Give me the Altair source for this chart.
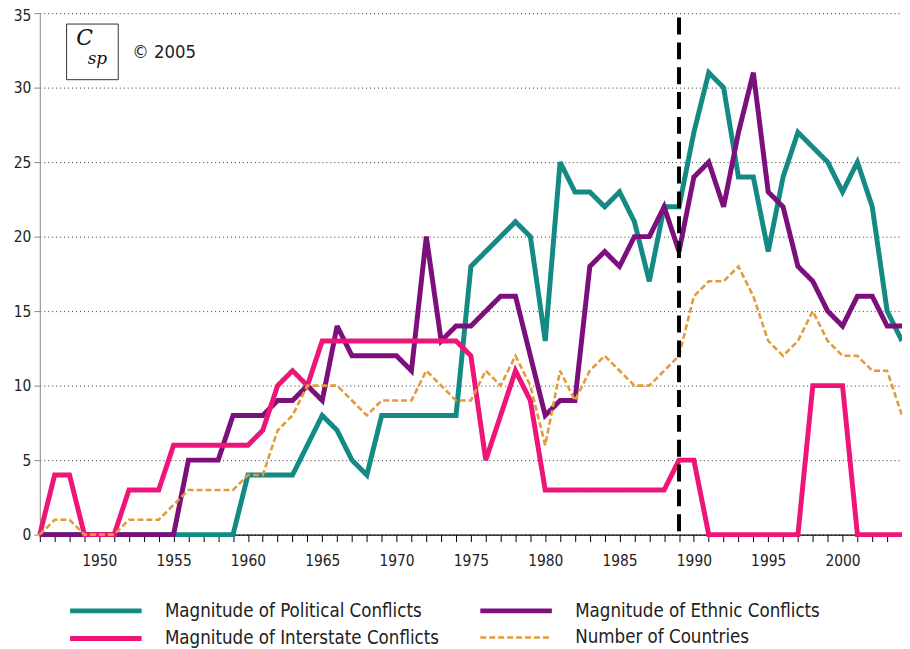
import altair as alt
import pandas as pd

years = list(range(1946, 2005))
label_years = [1950, 1955, 1960, 1965, 1970, 1975, 1980, 1985, 1990, 1995, 2000]

political = [0, 0, 0, 0, 0, 0, 0, 0, 0, 0, 0, 0, 0, 0,
             4, 4, 4, 4, 6, 8, 7, 5, 4, 8, 8, 8, 8, 8, 8,
             18, 19, 20, 21, 20, 13, 25, 23, 23, 22, 23, 21, 17, 22, 22,
             27, 31, 30, 24, 24, 19, 24, 27, 26, 25, 23, 25, 22, 15, 13]
ethnic = [0, 0, 0, 0, 0, 0, 0, 0, 0, 0,
          5, 5, 5, 8, 8, 8, 9, 9, 10,
          9, 14, 12, 12, 12, 12, 11, 20, 13, 14,
          14, 15, 16, 16, 12, 8, 9, 9, 18, 19,
          18, 20, 20, 22, 19, 24, 25, 22, 27, 31,
          23, 22, 18, 17, 15, 14, 16, 16, 14, 14]
interstate = [0, 4, 4, 0, 0, 0, 3, 3, 3, 6,
              6, 6, 6, 6, 6, 7, 10, 11, 10, 13,
              13, 13, 13, 13, 13, 13, 13, 13, 13, 12,
              5, 8, 11, 9, 3, 3, 3, 3, 3, 3,
              3, 3, 3, 5, 5, 0, 0, 0, 0, 0,
              0, 0, 10, 10, 10, 0, 0, 0, 0]
countries = [0, 1, 1, 0, 0, 0, 1, 1, 1, 2,
             3, 3, 3, 3, 4, 4, 7, 8, 10, 10,
             10, 9, 8, 9, 9, 9, 11, 10, 9, 9,
             11, 10, 12, 10, 6, 11, 9, 11, 12, 11,
             10, 10, 11, 12, 16, 17, 17, 18, 16, 13,
             12, 13, 15, 13, 12, 12, 11, 11, 8]

series_names = ["Magnitude of Political Conflicts", "Magnitude of Ethnic Conflicts",
                "Magnitude of Interstate Conflicts", "Number of Countries"]
series_values = [political, ethnic, interstate, countries]
series_colors = ["#138a84", "#7b0f7b", "#ee1578", "#e39a3a"]
series_dash = [[1, 0], [1, 0], [1, 0], [6, 3]]
series_width = [5, 5, 5, 2.6]

y_ticks = [0, 5, 10, 15, 20, 25, 30, 35]
marker_year = 1989
copyright_text = "\u00a9 2005"

FONT = "Liberation Sans Narrow, DejaVu Sans Condensed, Arial Narrow, sans-serif"

rows = []
for name, vals in zip(series_names, series_values):
    for yr, v in zip(years, vals):
        rows.append({"year": yr, "value": v, "series": name})
df = pd.DataFrame(rows)

x_scale = alt.Scale(domain=[years[0], years[-1]], nice=False, zero=False)

y_enc = alt.Y("value:Q",
              scale=alt.Scale(domain=[0, 35], nice=False),
              axis=alt.Axis(values=y_ticks, grid=True, gridDash=[1, 3], gridColor="#333",
                            gridWidth=1, domainColor="#888", tickColor="#888", tickSize=6,
                            title=None, labelFont=FONT, labelFontSize=15.5, labelColor="#222",
                            labelPadding=3,
                            labelOffset={"condition": {"test": "datum.value == 35", "value": 2},
                                         "value": 0}))

lines = alt.Chart(df).mark_line(strokeMiterLimit=3).encode(
    x=alt.X("year:Q", scale=x_scale,
            axis=alt.Axis(values=years, labels=False, tickSize=7, tickColor="black",
                          domainColor="black", domainWidth=1.2, tickWidth=1, grid=False,
                          title=None, orient="bottom")),
    y=y_enc,
    color=alt.Color("series:N", sort=series_names,
                    scale=alt.Scale(domain=series_names, range=series_colors),
                    legend=alt.Legend(title=None)),
    strokeDash=alt.StrokeDash("series:N", sort=series_names,
                              scale=alt.Scale(domain=series_names, range=series_dash),
                              legend=alt.Legend(title=None)),
    strokeWidth=alt.StrokeWidth("series:N", sort=series_names,
                                scale=alt.Scale(type="ordinal", domain=series_names,
                                                range=series_width),
                                legend=alt.Legend(title=None)),
)

marker = alt.Chart(pd.DataFrame({"year": [marker_year]})).mark_rule(
    color="black", strokeWidth=4, strokeDash=[17, 8]
).encode(
    x=alt.X("year:Q", scale=x_scale,
            axis=alt.Axis(values=label_years, format="d", ticks=False, tickSize=0,
                          domain=False, grid=False, title=None, orient="bottom",
                          labelFont=FONT, labelFontSize=15.5, labelColor="#222",
                          labelPadding=19)),
    y=alt.datum(34.7), y2=alt.datum(0))

one = pd.DataFrame({"a": [0]})
logo_box = alt.Chart(one).mark_rect(fill="white", stroke="#333", strokeWidth=1).encode(
    x=alt.value(27), x2=alt.value(79), y=alt.value(11), y2=alt.value(67))
logo_c = alt.Chart(one).mark_text(text="C", font="DejaVu Serif", fontStyle="italic",
                                  fontSize=22, color="#111").encode(
    x=alt.value(45), y=alt.value(25))
logo_sp = alt.Chart(one).mark_text(text="sp", font="DejaVu Serif", fontStyle="italic",
                                   fontSize=17, color="#111").encode(
    x=alt.value(58), y=alt.value(46))
copy_t = alt.Chart(one).mark_text(text=copyright_text, font=FONT, fontSize=18.5, align="left",
                                  baseline="middle", color="#222").encode(
    x=alt.value(93), y=alt.value(39))

chart = alt.layer(lines, marker, logo_box, logo_c, logo_sp, copy_t).resolve_axis(
    x="independent"
).properties(
    width=868, height=525, autosize="none",
    padding={"left": 32, "top": 3, "right": 0, "bottom": 115},
).configure_view(stroke=None).configure_legend(
    orient="none", legendX=55, legendY=590, columns=2, direction="horizontal",
    symbolType="M-4,0H4", symbolSize=324, labelOffset=48,
    labelFont=FONT, labelFontSize=18.7, labelColor="#222", labelLimit=500,
    rowPadding=6, columnPadding=31, padding=0,
)

chart.save("out.html", embed_options={"renderer": "svg", "actions": False})
